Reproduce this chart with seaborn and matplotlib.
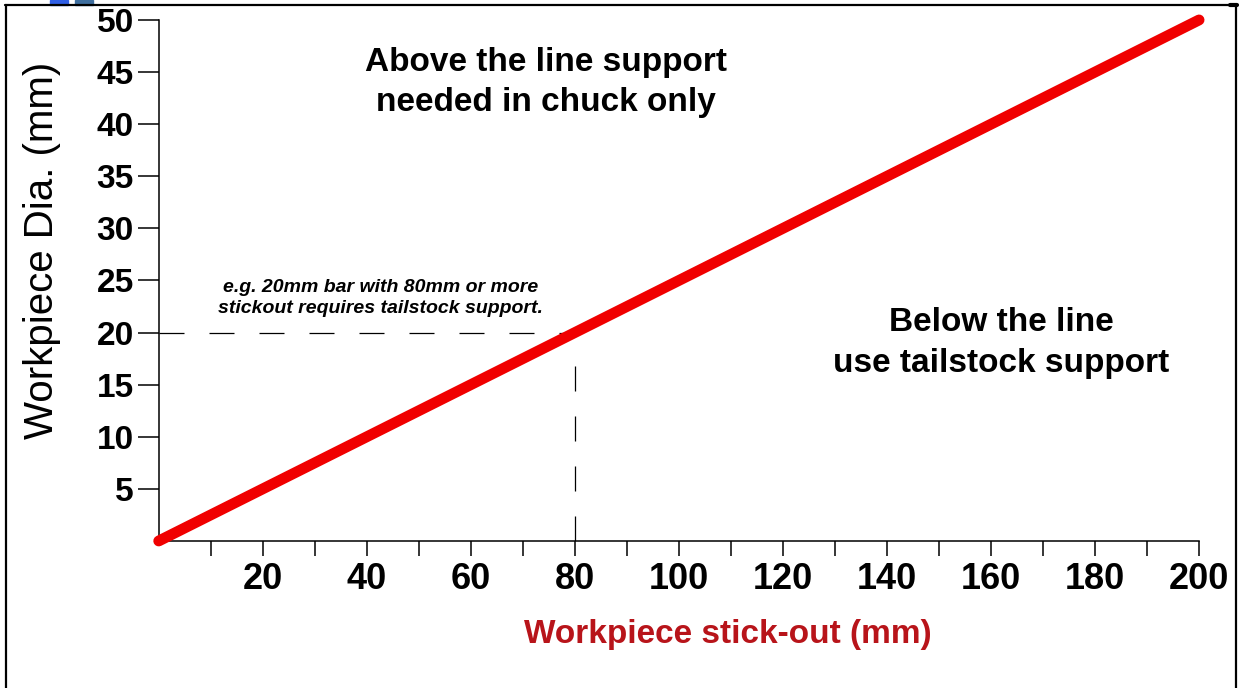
import numpy as np
import pandas as pd
import matplotlib
matplotlib.use("Agg")
import matplotlib.pyplot as plt
import seaborn as sns
from matplotlib.patches import Rectangle
from matplotlib.lines import Line2D

# chart values
stickout = [0, 200]
diameter = [0, 50]
example_stickout = 80
example_dia = 20
x_ticks = list(range(10, 201, 10))
x_tick_labels = [str(v) if v % 20 == 0 else '' for v in x_ticks]
y_ticks = list(range(5, 51, 5))
y_tick_labels = [str(v) for v in y_ticks]

sns.set_style("white")
plt.rcParams['font.family'] = ['Liberation Sans', 'DejaVu Sans']
plt.rcParams['text.color'] = 'black'
plt.rcParams['xtick.color'] = 'black'
plt.rcParams['ytick.color'] = 'black'
plt.rcParams['axes.labelcolor'] = 'black'

df = pd.DataFrame({'Stickout': stickout, 'Dia': diameter})

fig = plt.figure(figsize=(12.4, 6.88), dpi=100)
ax = fig.add_axes([0.128, 0.2137, 0.839, 0.7573])

sns.lineplot(data=df, x='Stickout', y='Dia', color='#f00000', linewidth=7.8,
             solid_capstyle='round', ax=ax, clip_on=False, zorder=5)

# example dashed guides
ax.plot([0, example_stickout], [example_dia, example_dia], color='black',
        linewidth=0.9, dashes=(20, 20))
ax.plot([example_stickout, example_stickout], [0, example_dia - 1.9], color='black',
        linewidth=0.9, dashes=(20, 20))

ax.set_xlim(0, 200)
ax.set_ylim(0, 50)
ax.set_xticks(x_ticks)
ax.set_xticklabels(x_tick_labels, fontsize=26, fontweight='bold')
ax.set_yticks(y_ticks)
ax.set_yticklabels(y_tick_labels, fontsize=24, fontweight='bold')
ax.tick_params(axis='x', direction='out', length=11, width=1.1, pad=4, bottom=True)
ax.tick_params(axis='y', direction='out', length=15, width=1.1, pad=3, left=True)

for s in ['top', 'right']:
    ax.spines[s].set_visible(False)
for s in ['left', 'bottom']:
    ax.spines[s].set_color('black')
    ax.spines[s].set_linewidth(1.1)

ax.set_xlabel("Workpiece stick-out (mm)", fontsize=24, fontweight='bold', color='#b8141a')
ax.xaxis.set_label_coords(0.547, -0.15)
ax.set_ylabel("Workpiece Dia. (mm)", fontsize=29, color='black')
ax.yaxis.set_label_coords(-0.094, 0.557)

ax.text(74.5, 44.0, "Above the line support\nneeded in chuck only", ha='center', va='center',
        fontsize=24, fontweight='bold', linespacing=1.38)
ax.text(162, 19.0, "Below the line\nuse tailstock support", ha='center', va='center',
        fontsize=24, fontweight='bold', linespacing=1.38)
ax.text(42.7, 23.3, "e.g. 20mm bar with 80mm or more\nstickout requires tailstock support.",
        ha='center', va='center', fontsize=14, fontweight='bold', fontstyle='italic',
        linespacing=1.3)

# outer frame and corner marks
W, H = 1240, 688
frame = [((5, 5), (1237, 5)), ((6, 5), (6, 700)), ((1236, 5), (1236, 700))]
for (x0, y0), (x1, y1) in frame:
    fig.add_artist(Line2D([x0 / W, x1 / W], [1 - y0 / H, 1 - y1 / H], color='black', linewidth=1.6))
fig.add_artist(Line2D([1230 / W, 1237 / W], [1 - 5 / H, 1 - 5 / H], color='black', linewidth=3))
fig.add_artist(Rectangle((50 / W, 1 - 5 / H), 18 / W, 5 / H, color='#2f5fe6'))
fig.add_artist(Rectangle((75 / W, 1 - 5 / H), 18 / W, 5 / H, color='#3f6f9f'))

fig.savefig("out.png", dpi=100, facecolor='white')
